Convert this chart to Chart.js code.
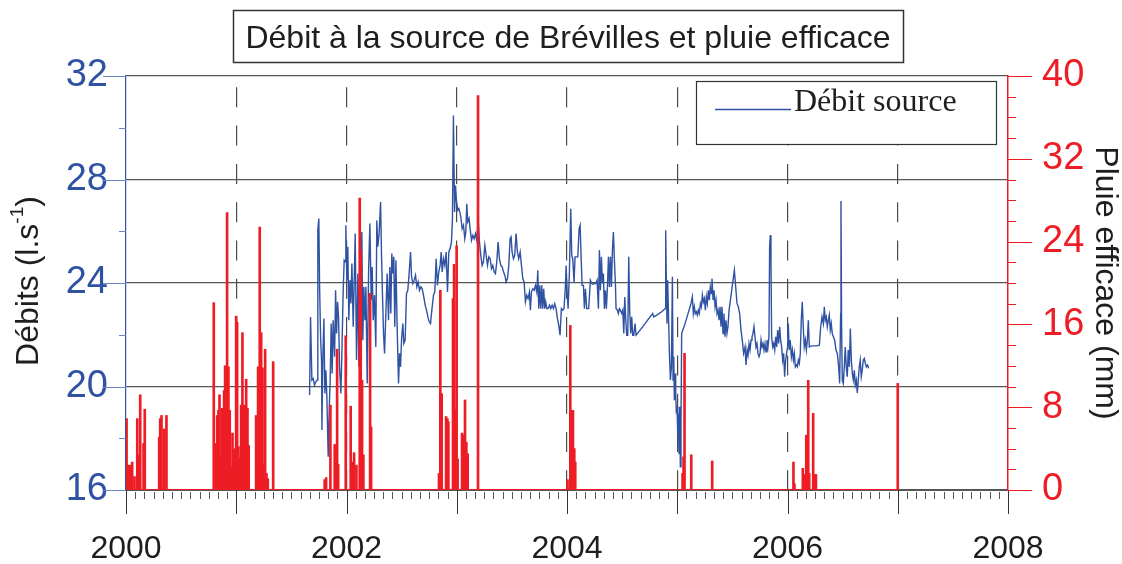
<!DOCTYPE html>
<html><head><meta charset="utf-8">
<script src="https://cdn.jsdelivr.net/npm/chart.js@4.4.1/dist/chart.umd.min.js"></script>
<style>html,body{margin:0;padding:0;background:#fff;}canvas{display:block;}</style>
</head><body>
<canvas id="c" width="1122" height="564"></canvas>
<script>
// ---- Data ----
const debitYear = [
2001.665,2001.674,2001.686,2001.698,2001.710,2001.722,2001.734,2001.740,2001.749,2001.756,2001.765,2001.774,2001.777,2001.786,2001.795,2001.804,2001.813,2001.822,2001.834,2001.843,2001.852,2001.861,2001.870,2001.879,2001.892,2001.901,2001.910,2001.919,2001.928,2001.937,2001.949,2001.958,2001.970,2001.979,2001.988,2001.994,
2002.003,2002.012,2002.021,2002.031,2002.040,2002.049,2002.061,2002.070,2002.079,2002.091,2002.103,2002.112,2002.121,2002.130,2002.139,2002.148,2002.157,2002.167,2002.176,2002.188,2002.200,2002.212,2002.224,2002.233,2002.242,2002.254,2002.266,2002.275,2002.284,2002.296,2002.309,2002.318,2002.327,2002.336,2002.345,2002.357,2002.369,2002.381,2002.393,2002.402,2002.411,2002.420,2002.429,2002.438,2002.448,2002.460,2002.472,2002.481,2002.490,2002.499,2002.511,2002.520,2002.532,2002.544,2002.556,2002.568,2002.581,2002.590,2002.602,2002.614,2002.626,2002.638,2002.650,2002.662,2002.674,2002.686,2002.701,2002.714,2002.726,2002.738,2002.750,2002.762,2002.774,2002.789,2002.801,
2002.813,2002.825,2002.837,2002.849,2002.859,2002.868,2002.880,2002.892,2002.904,2002.916,2002.928,2002.940,2002.952,2002.961,2002.970,2002.980,2002.989,2002.998,
2003.010,2003.019,2003.028,2003.037,2003.049,2003.061,2003.073,2003.082,2003.091,2003.100,2003.112,2003.121,2003.134,2003.146,2003.158,2003.170,2003.182,2003.194,2003.206,2003.218,2003.230,2003.242,2003.255,2003.267,2003.279,2003.291,2003.303,2003.315,2003.327,2003.339,2003.351,2003.363,2003.375,2003.387,2003.400,2003.412,2003.424,2003.436,2003.448,2003.460,2003.472,2003.484,2003.493,2003.502,2003.514,2003.526,2003.538,2003.550,2003.562,2003.575,2003.587,2003.599,2003.611,2003.623,2003.635,2003.647,2003.659,2003.668,2003.677,2003.690,2003.702,2003.714,2003.726,2003.735,2003.744,2003.753,2003.762,2003.771,2003.780,2003.789,2003.798,2003.807,2003.817,2003.829,2003.841,2003.853,2003.865,2003.877,2003.889,2003.901,2003.913,2003.925,2003.937,2003.949,2003.961,2003.973,2003.986,2003.992,
2004.001,2004.010,2004.022,2004.034,2004.043,2004.052,2004.064,2004.073,2004.085,2004.098,2004.110,2004.119,2004.128,2004.137,2004.149,2004.158,2004.167,2004.179,2004.197,
2004.212,2004.225,2004.237,2004.249,2004.261,2004.273,2004.285,2004.294,2004.303,2004.312,2004.321,2004.330,2004.339,2004.348,2004.357,2004.367,2004.376,2004.385,2004.394,2004.403,2004.412,2004.421,2004.430,2004.439,2004.445,2004.457,2004.466,2004.475,2004.484,2004.497,2004.506,2004.515,2004.524,2004.533,2004.542,2004.551,2004.560,2004.569,2004.578,2004.587,2004.596,2004.605,2004.617,2004.626,2004.663,2004.708,2004.753,2004.777,2004.787,2004.814,2004.859,2004.889,2004.895,2004.901,2004.907,2004.913,2004.919,2004.929,2004.938,2004.947,2004.956,2004.962,2004.968,2004.974,2004.980,2004.986,2004.992,2004.998,
2005.004,2005.010,2005.016,2005.022,2005.028,2005.034,2005.040,2005.071,2005.107,2005.125,2005.137,2005.146,2005.155,2005.164,2005.173,2005.182,2005.191,2005.200,2005.210,2005.219,2005.228,2005.237,2005.246,2005.255,2005.264,2005.273,2005.282,2005.291,2005.300,2005.309,2005.315,2005.325,2005.334,2005.343,2005.352,2005.361,2005.370,2005.379,2005.388,2005.397,2005.406,2005.415,2005.424,2005.433,2005.442,2005.451,2005.460,2005.470,2005.482,2005.494,2005.506,2005.518,2005.530,2005.542,2005.554,2005.566,2005.578,2005.590,2005.602,
2005.615,2005.624,2005.633,2005.642,2005.651,2005.660,2005.669,2005.678,2005.687,2005.696,2005.705,2005.714,2005.723,2005.732,2005.742,2005.751,2005.760,2005.769,2005.778,2005.787,2005.796,2005.805,2005.814,2005.823,2005.832,2005.838,2005.844,2005.850,2005.856,2005.866,2005.875,2005.884,2005.893,2005.902,2005.911,2005.920,2005.929,2005.938,2005.947,2005.956,2005.965,2005.974,2005.983,2005.992,
2006.001,2006.007,2006.016,2006.025,2006.035,2006.044,2006.053,2006.062,2006.071,2006.080,2006.089,2006.098,2006.107,2006.116,2006.125,2006.134,2006.143,2006.152,2006.162,2006.171,2006.180,2006.189,2006.198,2006.210,2006.234,2006.264,2006.289,2006.301,2006.313,2006.325,2006.334,2006.343,2006.352,2006.361,2006.370,2006.379,2006.388,2006.397,2006.406,2006.416,2006.428,2006.440,2006.452,2006.464,2006.473,2006.482,2006.485,2006.491,2006.497,2006.506,2006.515,2006.524,2006.533,2006.542,2006.551,2006.561,2006.570,2006.579,2006.588,2006.597,2006.606,2006.615,2006.624,2006.633,2006.642,2006.651,2006.660,2006.669,2006.678,2006.687,2006.697,2006.706,2006.715,2006.727,2006.736
];
const debitValue = [
19.67,22.69,20.25,20.31,20.05,20.18,20.25,26.04,26.49,23.85,21.92,20.95,18.32,21.15,22.63,19.73,20.63,19.60,17.29,19.09,20.25,22.43,20.50,22.56,21.15,23.72,22.05,23.27,22.69,20.76,19.73,21.28,23.72,24.88,24.82,26.23,
24.11,25.40,22.56,24.11,23.21,24.75,22.31,24.11,25.91,21.02,24.37,20.76,25.27,22.56,25.97,21.79,23.85,22.56,23.85,20.12,24.37,26.30,23.34,24.62,22.56,23.53,21.53,26.42,25.40,25.91,27.13,25.01,23.46,22.05,21.28,22.82,24.37,22.56,24.62,22.82,25.14,24.37,25.01,22.31,24.88,22.18,20.12,21.28,20.76,21.79,22.43,21.66,21.79,23.59,23.72,24.37,25.20,24.24,23.98,24.11,24.30,23.85,24.04,23.72,23.85,23.79,23.46,23.14,22.95,22.69,22.50,22.43,22.95,23.53,23.66,
24.94,23.91,24.43,24.68,25.20,24.43,24.94,24.68,25.20,23.65,25.20,25.33,25.58,26.48,30.47,26.74,27.77,27.13,
26.81,26.87,26.74,26.55,26.10,26.23,25.71,25.97,27.06,26.36,26.49,26.10,25.65,25.84,25.71,25.91,25.65,26.49,25.58,25.07,24.68,24.81,25.46,25.07,24.68,25.01,24.94,24.56,24.68,24.43,24.36,24.81,25.58,24.94,24.68,24.62,24.43,24.30,24.04,24.17,24.68,25.71,25.78,25.20,24.94,25.07,25.91,25.20,24.94,25.20,24.68,24.17,24.04,23.27,23.53,23.40,23.65,22.95,23.65,23.78,23.72,23.91,23.65,24.49,23.01,23.91,23.01,23.91,23.01,23.78,23.01,23.27,23.01,23.01,23.14,23.01,23.14,23.01,23.20,23.01,22.63,22.37,21.98,23.01,22.95,23.01,23.91,24.68,
23.65,23.01,24.43,26.87,25.07,24.94,24.04,25.01,25.01,25.01,26.10,26.23,25.01,23.91,23.91,23.01,23.78,23.01,23.01,
24.11,23.98,23.95,23.98,23.98,24.11,23.01,25.27,23.72,25.01,23.98,24.37,23.01,23.72,23.01,23.85,25.01,23.85,25.01,23.85,25.27,25.97,24.88,23.98,23.01,22.95,22.82,23.01,22.95,22.82,22.95,22.05,23.46,22.56,21.98,21.98,25.01,22.89,22.05,22.69,21.98,21.98,22.43,21.98,22.18,22.43,22.69,22.82,22.69,22.76,22.89,23.01,26.04,24.11,22.43,24.11,23.08,21.28,20.25,20.76,24.24,20.25,21.15,19.47,20.50,19.73,18.96,19.22,
18.19,18.96,17.42,19.22,16.90,18.57,22.05,22.43,22.95,23.21,23.46,22.82,23.08,22.82,22.89,22.76,22.95,22.82,23.21,23.08,23.53,23.27,23.40,22.95,23.46,23.21,23.72,23.34,23.85,23.59,24.17,23.34,23.72,23.08,23.34,22.82,22.95,22.56,23.08,22.31,23.08,22.05,22.82,21.92,22.56,22.05,22.31,22.95,23.34,23.72,24.11,24.49,23.85,23.21,23.08,22.82,22.18,21.79,21.28,
21.53,20.83,21.41,21.21,21.66,21.41,21.79,21.92,22.05,22.31,21.92,21.53,21.66,21.28,21.15,21.28,21.79,21.53,21.66,21.41,21.66,21.34,21.79,21.53,21.92,25.40,25.85,24.88,21.92,21.53,21.66,21.41,21.92,21.53,22.18,21.66,22.31,21.79,21.53,21.02,21.28,20.38,21.02,21.28,
21.53,22.43,21.41,21.79,21.15,21.41,21.02,21.28,20.76,20.83,20.76,21.02,20.89,21.28,22.56,23.27,22.31,21.53,21.79,21.41,21.79,22.56,21.53,21.56,21.57,21.57,21.60,22.31,22.69,22.43,23.08,22.56,22.69,22.31,22.56,22.76,22.18,22.43,22.05,21.92,21.79,21.41,21.28,20.76,20.12,22.82,27.17,22.18,20.25,20.12,20.76,21.53,20.76,20.38,21.41,20.76,22.24,21.02,20.50,20.25,20.63,20.07,20.25,19.75,20.25,20.76,21.02,20.38,20.63,21.02,21.08,20.89,20.76,20.83,20.70
];
const rainYear = [
2000.005,2000.016,2000.034,2000.056,2000.077,2000.102,2000.116,2000.129,2000.159,2000.170,2000.301,2000.310,2000.322,2000.346,2000.367,
2000.796,2000.805,2000.827,2000.839,2000.848,2000.857,2000.869,2000.878,2000.890,2000.899,2000.908,2000.917,2000.929,2000.941,2000.954,2000.966,2000.977,2000.990,2000.999,
2001.008,2001.020,2001.032,2001.044,2001.056,2001.068,2001.081,2001.090,2001.102,2001.113,2001.180,2001.189,2001.198,2001.213,2001.226,2001.238,2001.249,2001.262,2001.274,2001.286,2001.335,
2001.802,2001.815,2001.854,2001.893,2001.906,2001.915,2001.924,2001.993,
2002.038,2002.051,2002.069,2002.090,2002.120,2002.129,2002.141,2002.153,2002.214,2002.223,
2002.839,2002.851,2002.863,2002.903,2002.915,2002.924,2002.966,2002.976,2002.987,2002.999,
2003.008,2003.048,2003.060,2003.075,2003.087,2003.099,2003.193,
2004.005,2004.030,2004.042,2004.054,2004.066,2004.075,
2005.048,2005.057,2005.066,2005.127,2005.317,
2006.054,2006.063,2006.139,2006.149,2006.170,2006.188,2006.197,2006.233,2006.245,2006.258,
2007.000
];
const rainValue = [
6.9,2.4,2.4,2.7,1.3,6.9,3.4,9.2,4.5,7.8,5.1,6.9,7.2,5.9,7.2,
18.1,4.5,7.2,7.7,9.2,3.2,7.9,6.1,9.6,12.0,10.8,26.8,11.9,7.7,2.2,5.5,3.9,4.0,16.8,
16.2,4.2,3.1,8.2,15.2,8.2,1.6,10.7,7.9,4.3,7.2,2.5,11.9,25.4,15.2,11.8,2.5,13.6,1.6,1.1,12.4,
1.0,1.2,8.2,4.4,3.4,13.6,2.5,14.9,
8.1,2.7,3.6,2.4,28.2,23.1,10.6,3.4,19.0,6.1,
1.6,19.3,9.3,7.1,6.9,6.6,18.5,21.8,7.8,23.6,
3.0,5.5,5.3,8.7,4.6,3.5,38.1,
1.0,15.9,7.7,7.7,4.0,2.7,
1.6,3.2,13.2,3.4,2.8,
2.7,0.6,2.1,1.5,5.3,10.6,1.6,7.4,1.5,1.5,
10.3
];
const rainPeriod = [2000, 2007];          // span of the daily rain record (zero baseline)
const xLabelYears = [2000, 2002, 2004, 2006, 2008];
const leftTickValues = [16, 20, 24, 28, 32];
const rightTickValues = [0, 8, 16, 24, 32, 40];
const chartTitle = 'Débit à la source de Brévilles et pluie efficace';
const legendLabel = 'Débit source';
const leftTitle = ['Débits (l.s', '-1', ')'];
const rightTitle = 'Pluie efficace (mm)';

// ---- Styles ----
const BLUE = '#2f52a3';
const BLUE_TICK = '#6a86c6';
const RED = '#ee1d25';
const GRID = '#555555';
const SANS = "'Liberation Sans', Arial, sans-serif";
const SERIF = "'Liberation Serif', 'Times New Roman', serif";
Chart.defaults.font.family = SANS;

const deco = {
  id: 'deco',
  afterDraw(chart) {
    const {ctx, chartArea: ca, scales} = chart;
    const x = scales.x, y = scales.y, y2 = scales.y2;
    ctx.save();
    // x ticks: months (minor) and years (major)
    ctx.lineWidth = 1;
    for (let m = 0; m <= 96; m++) {
      const px = Math.round(x.getPixelForValue(2000 + m / 12)) + 0.5;
      const major = m % 12 === 0;
      ctx.strokeStyle = major ? '#333' : '#555';
      ctx.beginPath();
      ctx.moveTo(px, ca.bottom + (major ? 0 : 2));
      ctx.lineTo(px, ca.bottom + (major ? 24 : 9));
      ctx.stroke();
    }
    // left ticks
    ctx.strokeStyle = BLUE_TICK;
    for (let v = 16; v <= 32; v += 2) {
      const py = Math.round(y.getPixelForValue(v)) + 0.5;
      const major = leftTickValues.includes(v);
      ctx.beginPath();
      ctx.moveTo(ca.left - (major ? 23 : 7), py);
      ctx.lineTo(ca.left, py);
      ctx.stroke();
    }
    // right ticks
    ctx.strokeStyle = RED;
    for (let v = 0; v <= 40; v += 2) {
      const py = Math.round(y2.getPixelForValue(v)) + 0.5;
      const major = rightTickValues.includes(v);
      ctx.beginPath();
      ctx.moveTo(ca.right, py);
      ctx.lineTo(ca.right + (major ? 24 : 8), py);
      ctx.stroke();
    }
    // title box
    ctx.fillStyle = '#fff';
    ctx.strokeStyle = '#333';
    ctx.lineWidth = 1.5;
    ctx.fillRect(233, 10, 670, 52);
    ctx.strokeRect(233.5, 10.5, 670, 52);
    ctx.fillStyle = '#1e1e1e';
    ctx.font = '32px ' + SANS;
    ctx.textAlign = 'center';
    ctx.textBaseline = 'alphabetic';
    ctx.fillText(chartTitle, 568, 48);
    // legend box
    ctx.fillStyle = '#fff';
    ctx.fillRect(696, 81, 300, 63);
    ctx.lineWidth = 1.2;
    ctx.strokeRect(696.5, 81.5, 300, 63);
    ctx.strokeStyle = BLUE;
    ctx.lineWidth = 1.4;
    ctx.beginPath(); ctx.moveTo(715, 109.5); ctx.lineTo(791, 109.5); ctx.stroke();
    ctx.fillStyle = '#1e1e1e';
    ctx.font = '32px ' + SERIF;
    ctx.textAlign = 'left';
    ctx.fillText(legendLabel, 794, 111);
    // left axis title (rotated, bottom-to-top)
    ctx.save();
    ctx.translate(29, 281);
    ctx.rotate(-Math.PI / 2);
    ctx.fillStyle = '#1e1e1e';
    ctx.textBaseline = 'middle';
    ctx.font = '32px ' + SANS;
    const w1 = ctx.measureText(leftTitle[0]).width;
    const w3 = ctx.measureText(leftTitle[2]).width;
    ctx.font = '19px ' + SANS;
    const w2 = ctx.measureText(leftTitle[1]).width;
    const total = w1 + w2 + w3;
    let cx = -total / 2;
    ctx.textAlign = 'left';
    ctx.font = '32px ' + SANS;
    ctx.fillText(leftTitle[0], cx, 0); cx += w1;
    ctx.font = '19px ' + SANS;
    ctx.fillText(leftTitle[1], cx, -11); cx += w2;
    ctx.font = '32px ' + SANS;
    ctx.fillText(leftTitle[2], cx, 0);
    ctx.restore();
    // right axis title (rotated, top-to-bottom)
    ctx.save();
    ctx.translate(1105, 283);
    ctx.rotate(Math.PI / 2);
    ctx.fillStyle = '#1e1e1e';
    ctx.textAlign = 'center';
    ctx.textBaseline = 'middle';
    ctx.font = '32px ' + SANS;
    ctx.fillText(rightTitle, 0, 0);
    ctx.restore();
    ctx.restore();
  }
};

new Chart(document.getElementById('c'), {
  type: 'line',
  data: {
    datasets: [
      { type: 'bar', label: 'Pluie efficace', data: rainYear.map((v, i) => ({x: v, y: rainValue[i]})),
        xAxisID: 'x', yAxisID: 'y2', backgroundColor: RED, borderWidth: 0, barThickness: 2, order: 0 },
      { type: 'line', label: 'Pluie base', data: rainPeriod.map(v => ({x: v, y: 0})),
        xAxisID: 'x', yAxisID: 'y2', borderColor: RED, borderWidth: 2, pointRadius: 0, order: 0 },
      { type: 'line', label: legendLabel, data: debitYear.map((v, i) => ({x: v, y: debitValue[i]})),
        xAxisID: 'x', yAxisID: 'y', borderColor: BLUE, borderWidth: 1.4, pointRadius: 0, tension: 0, order: 1 }
    ]
  },
  options: {
    responsive: false,
    animation: false,
    devicePixelRatio: 1,
    layout: { padding: { top: 76, left: 0, right: 0, bottom: 0 } },
    plugins: { legend: { display: false }, title: { display: false }, tooltip: { enabled: false } },
    scales: {
      x: {
        type: 'linear', min: 2000, max: 2008, offset: false,
        afterFit(s) { s.height = 74; },
        ticks: { stepSize: 1, autoSkip: false, maxRotation: 0, padding: 40, color: '#1e1e1e',
          font: { size: 32 }, callback: v => xLabelYears.includes(v) ? String(v) : '' },
        grid: { drawTicks: false, offset: false, lineWidth: 1.2,
          color: c => (c.tick && c.tick.value > 2000 && c.tick.value < 2008) ? '#4a4a4a' : 'rgba(0,0,0,0)' },
        border: { display: true, color: '#555', width: 1, dash: [20, 18.3], dashOffset: 27 }
      },
      y: {
        type: 'linear', position: 'left', min: 16, max: 32,
        afterFit(s) { s.width = 126; },
        ticks: { stepSize: 4, padding: 18, color: BLUE, font: { size: 38 } },
        grid: { drawTicks: false, color: GRID, lineWidth: 1.2 },
        border: { color: BLUE, width: 1.2 }
      },
      y2: {
        type: 'linear', position: 'right', min: 0, max: 40,
        afterFit(s) { s.width = 114; },
        ticks: { stepSize: 8, padding: 34, color: RED, font: { size: 38 } },
        grid: { drawOnChartArea: false, drawTicks: false },
        border: { color: RED, width: 1.5 }
      }
    }
  },
  plugins: [deco]
});
</script>
</body></html>
